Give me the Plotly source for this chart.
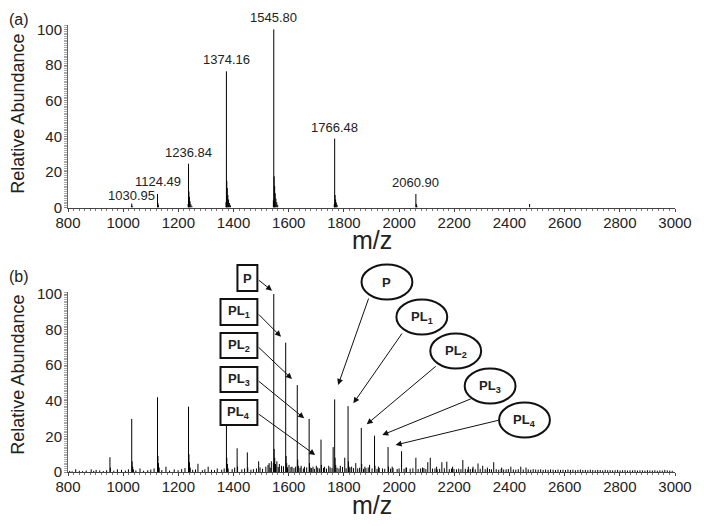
import plotly.graph_objects as go

# ---------------- DATA ----------------
# Panel (a): labelled main peaks
a_peak_mz = [1030.95, 1124.49, 1236.84, 1374.16, 1545.80, 1766.48, 2060.90, 2473.0]
a_peak_int = [2.2, 7.6, 24.6, 76.5, 100.0, 38.7, 7.6, 2.0]
a_labels = ["1030.95", "1124.49", "1236.84", "1374.16", "1545.80", "1766.48", "2060.90"]
a_label_mz = [1030.95, 1124.49, 1236.84, 1374.16, 1545.80, 1766.48, 2060.90]
a_label_int = [2.2, 7.6, 24.6, 76.5, 100.0, 38.7, 7.6]
# Panel (a): isotope shoulders
a_sh_mz = [1032.5, 1126.0, 1128.0,
           1235.5, 1238.3, 1240.0, 1242.5, 1245.5, 1249.0,
           1372.8, 1375.5, 1377.3, 1379.5, 1382.0, 1385.0, 1389.0,
           1544.3, 1547.2, 1549.0, 1551.0, 1553.5, 1556.5, 1560.0,
           1765.0, 1768.0, 1770.0, 1772.5, 1775.5,
           2062.3, 2064.5]
a_sh_int = [1.0, 2.5, 1.3,
            2.0, 9.0, 6.0, 3.5, 1.8, 0.8,
            3.0, 15.0, 11.0, 7.0, 4.5, 2.5, 1.2,
            4.0, 17.5, 12.0, 8.0, 5.0, 3.0, 1.5,
            2.0, 7.0, 4.5, 2.8, 1.5,
            2.0, 1.0]

# Panel (b): main peaks
b_peak_mz = [828, 884, 902, 952, 979, 1030.95, 1061, 1124.5, 1155, 1185,
             1236.8, 1271, 1308, 1341, 1374.2, 1413, 1450, 1491, 1525, 1545.8,
             1589, 1631, 1674, 1717, 1761, 1766.5, 1803, 1815, 1843, 1863,
             1893, 1911, 1960, 2009, 2060.9, 2104, 2113, 2155, 2173, 2231,
             2286, 2303, 2343, 2405, 2441, 2460]
b_peak_int = [1.5, 1.5, 1.2, 8.3, 1.5, 29.8, 2.0, 42.0, 3.0, 1.5,
              36.7, 4.6, 3.0, 2.0, 26.5, 13.3, 11.0, 6.0, 4.0, 100.0,
              72.7, 48.8, 29.8, 18.2, 14.0, 40.8, 8.0, 37.0, 5.0, 24.8,
              4.0, 20.4, 14.0, 11.7, 8.0, 5.5, 8.0, 5.5, 5.8, 6.7,
              4.8, 3.5, 5.5, 3.0, 3.0, 2.5]
# Panel (b): shoulders and minor peaks
b_sh_mz = [953.5, 1032.5, 1034.5, 1037.0, 1126.0, 1128.0, 1130.5, 1238.3, 1240.3, 1243.0,
           1375.6, 1377.8, 1380.5, 1414.5, 1451.5, 1544.3, 1547.2, 1549.3, 1552.0, 1590.5,
           1592.7, 1595.5, 1632.5, 1634.7, 1675.5, 1677.8, 1718.5, 1768.0, 1770.3, 1816.5,
           1818.7, 1864.5, 1912.5, 1961.5, 1529, 1537, 1557, 1566, 1574, 1601,
           1612, 1645, 1657, 1688, 1700, 1730, 1745, 1787, 1828, 1876,
           1925, 1975, 2025, 2085, 2136, 2194, 2251, 2268, 2320, 2372]
b_sh_int = [2.5, 6.0, 3.0, 1.5, 9.0, 5.0, 2.5, 10.0, 5.5, 2.5,
            8.0, 4.5, 2.0, 3.0, 2.5, 5.0, 13.0, 8.0, 4.5, 9.0,
            5.0, 2.5, 7.0, 3.5, 5.0, 2.5, 4.0, 8.0, 4.0, 6.0,
            3.0, 4.5, 3.5, 3.0, 5.0, 6.0, 6.0, 4.5, 3.5, 4.0,
            3.0, 3.5, 3.0, 3.0, 3.5, 3.0, 3.5, 3.5, 3.0, 3.0,
            3.0, 3.0, 2.5, 2.5, 3.0, 3.0, 3.0, 3.0, 2.5, 2.5]
# Panel (b): baseline noise
b_noise_mz = [806, 815, 841, 853, 866, 893, 915, 928, 940, 966,
              994, 1008, 1019, 1046, 1074, 1089, 1100, 1112, 1140, 1168,
              1199, 1212, 1224, 1252, 1262, 1287, 1296, 1320, 1331, 1357,
              1366, 1395, 1404, 1430, 1440, 1463, 1472,
              1483, 1496, 1505, 1517, 1533, 1553, 1562, 1574, 1581, 1596,
              1608, 1619, 1625, 1641, 1653, 1665, 1683, 1693, 1705, 1711,
              1726, 1737, 1750, 1757, 1775, 1782, 1795, 1808, 1822, 1835,
              1850, 1857, 1871, 1880, 1888, 1902, 1920, 1928, 1940, 1948,
              1969, 1978, 1993, 2000, 2018, 2027, 2040, 2050, 2069, 2078,
              2090, 2097, 2121, 2130, 2138, 2147, 2164, 2182, 2190, 2199,
              2208, 2216, 2224, 2240, 2249, 2258, 2266, 2276, 2294, 2312,
              2320, 2328, 2335, 2352, 2361, 2370, 2379, 2388, 2396, 2414,
              2423, 2432, 2450, 2468, 2477, 2486, 2495, 2504, 2513, 2522,
              2531, 2540, 2549, 2558, 2567, 2576, 2585, 2594, 2603, 2612,
              2621, 2630, 2639, 2648, 2657, 2666, 2675, 2684, 2693, 2702,
              2711, 2720, 2729, 2738, 2747, 2756, 2765, 2774, 2783, 2792,
              2801, 2810, 2819, 2828, 2837, 2846, 2855, 2864, 2873, 2882,
              2891, 2900, 2909, 2918, 2927, 2936, 2945, 2954, 2963, 2972,
              2981, 2990]
b_noise_int = [0.6, 0.4, 0.7, 0.5, 0.8, 0.6, 0.9, 0.5, 1.0, 0.7,
               1.2, 0.8, 1.5, 0.9, 0.7, 1.0, 1.4, 2.0, 1.1, 0.8,
               1.0, 1.6, 2.2, 1.2, 1.4, 1.0, 1.5, 1.2, 1.0, 1.3,
               2.0, 1.6, 2.5, 1.5, 2.0, 1.3, 1.6,
               2.0, 2.6, 1.8, 3.0, 2.4, 3.5, 2.8, 2.2, 3.2, 2.5,
               2.8, 2.2, 3.0, 2.4, 2.0, 2.6, 2.2, 1.8, 2.5, 2.0,
               2.3, 1.9, 2.6, 2.2, 2.4, 2.0, 2.8, 2.1, 2.5, 2.2,
               2.0, 2.4, 1.8, 2.2, 2.6, 2.0, 1.7, 2.3, 2.0, 1.8,
               1.9, 2.2, 1.7, 2.0, 1.8, 2.4, 1.9, 2.1, 1.7, 2.0,
               2.2, 1.6, 1.9, 2.0, 1.5, 1.8, 2.1, 1.6, 1.9, 1.7,
               1.5, 1.9, 1.6, 1.8, 1.4, 1.7, 2.0, 1.5, 1.8, 1.6,
               1.4, 1.7, 1.5, 1.6, 1.3, 1.8, 1.4, 1.5, 1.7, 1.4,
               1.3, 1.6, 1.4, 1.5, 1.2, 1.6, 1.4, 1.3, 1.5, 1.2,
               1.4, 1.2, 1.5, 1.3, 1.1, 1.4, 1.2, 1.3, 1.1, 1.4,
               1.2, 1.3, 1.0, 1.2, 1.4, 1.1, 1.2, 1.0, 1.3, 1.1,
               1.0, 1.2, 1.1, 0.9, 1.2, 1.0, 1.1, 0.9, 1.0, 1.2,
               0.9, 1.0, 1.1, 0.8, 1.0, 0.9, 1.1, 0.8, 1.0, 0.9,
               0.8, 1.0, 0.9, 0.8, 1.0, 0.7, 0.9, 0.8, 1.2, 0.9,
               0.8, 0.7]

x_ticks = [800, 1000, 1200, 1400, 1600, 1800, 2000, 2200, 2400, 2600, 2800, 3000]
y_ticks = [0, 20, 40, 60, 80, 100]

box_labels = ["P", "PL<sub>1</sub>", "PL<sub>2</sub>", "PL<sub>3</sub>", "PL<sub>4</sub>"]
ellipse_labels = ["P", "PL<sub>1</sub>", "PL<sub>2</sub>", "PL<sub>3</sub>", "PL<sub>4</sub>"]

# ---------------- LAYOUT GEOMETRY (pixels) ----------------
L, R, T, B = 68, 27, 25, 54
FW, FH = 704, 526
W = FW - L - R
H = FH - T - B


def px(x):
    return (x - L) / W


def py(y):
    return (FH - B - y) / H


FONT = "Liberation Sans, Arial, sans-serif"
label_yshift = [-1, 3, 2, 2, 2, 2, 2]


def sticks(mz_lists, int_lists):
    xs, ys = [], []
    for mzs, ints in zip(mz_lists, int_lists):
        for m, v in zip(mzs, ints):
            xs += [m, m, None]
            ys += [0, v, None]
    return xs, ys


fig = go.Figure()
xa, ya = sticks([a_sh_mz, a_peak_mz], [a_sh_int, a_peak_int])
fig.add_trace(go.Scatter(x=xa, y=ya, mode="lines", line=dict(color="#000", width=1),
                         xaxis="x", yaxis="y", hoverinfo="skip", showlegend=False))
xb, yb = sticks([b_noise_mz, b_sh_mz, b_peak_mz], [b_noise_int, b_sh_int, b_peak_int])
fig.add_trace(go.Scatter(x=xb, y=yb, mode="lines", line=dict(color="#000", width=1),
                         xaxis="x2", yaxis="y2", hoverinfo="skip", showlegend=False))

axis_common = dict(
    range=[800, 3000], tickvals=x_ticks, showline=True, linecolor="#444", linewidth=1,
    ticks="outside", ticklen=3, tickcolor="#444", showgrid=False, zeroline=False,
    ticklabelstandoff=-2,
    tickfont=dict(family=FONT, size=15, color="#222"),
    minor=dict(dtick=20, tick0=800, ticks="outside", ticklen=2, tickcolor="#777"),
)
yaxis_common = dict(
    tickvals=y_ticks, showline=True, linecolor="#666", linewidth=1,
    ticks="outside", ticklen=3, tickcolor="#888", showgrid=False, zeroline=False,
    ticklabelstandoff=-1,
    tickfont=dict(family=FONT, size=15, color="#222"),
    minor=dict(dtick=1, tick0=0, ticks="outside", ticklen=3, tickcolor="#aaa"),
)

fig.update_layout(
    width=FW, height=FH,
    margin=dict(l=L, r=R, t=T, b=B),
    paper_bgcolor="white", plot_bgcolor="white",
    xaxis=dict(domain=[0, 1], anchor="y", **axis_common),
    yaxis=dict(domain=[py(207.5), 1], anchor="x", range=[0, 102.5], **yaxis_common),
    xaxis2=dict(domain=[0, 1], anchor="y2", **axis_common),
    yaxis2=dict(domain=[0, py(291.7)], anchor="x2", range=[0, 101.3], **yaxis_common),
    showlegend=False,
)

ann = []
# peak labels in (a)
for lab, m, v, ys in zip(a_labels, a_label_mz, a_label_int, label_yshift):
    ann.append(dict(x=m, y=v, xref="x", yref="y", text=lab, showarrow=False,
                    yanchor="bottom", yshift=ys, font=dict(family=FONT, size=13, color="#222")))

# panel letters, axis titles
for txt, y in [("(a)", 19), ("(b)", 276)]:
    ann.append(dict(x=px(19), y=py(y), xref="paper", yref="paper", text=txt, showarrow=False,
                    xanchor="center", yanchor="middle", font=dict(family=FONT, size=16, color="#222")))
for y in [114, 375]:
    ann.append(dict(x=px(17.5), y=py(y), xref="paper", yref="paper", text="Relative Abundance",
                    textangle=-90, showarrow=False, xanchor="center", yanchor="middle",
                    font=dict(family=FONT, size=18, color="#222")))
for y in [240, 505]:
    ann.append(dict(x=px(372.5), y=py(y), xref="paper", yref="paper", text="m/z",
                    showarrow=False, xanchor="center", yanchor="middle",
                    font=dict(family=FONT, size=25, color="#222")))

shapes = []
# rectangular boxes (left)
box_geom = [(238, 258, 265, 291), (221, 258, 299, 325), (221, 258, 333, 358),
            (221, 258, 367, 392), (221, 258, 400, 425)]
box_arrows = [((258, 279), (272.7, 290.7)), ((258, 313), (281.7, 336.7)),
              ((258, 346), (292.7, 379)), ((258, 380), (305, 418.3)),
              ((258, 413), (316, 455))]
for lab, (x0, x1, y0, y1), (tail, tip) in zip(box_labels, box_geom, box_arrows):
    shapes.append(dict(type="rect", xref="paper", yref="paper", x0=px(x0), x1=px(x1),
                       y0=py(y1), y1=py(y0), line=dict(color="#111", width=2), fillcolor="white"))
    ann.append(dict(x=px((x0 + x1) / 2), y=py((y0 + y1) / 2), xref="paper", yref="paper",
                    text="<b>" + lab + "</b>", showarrow=False, xanchor="center", yanchor="middle",
                    font=dict(family=FONT, size=13, color="#222")))
    ann.append(dict(x=px(tip[0]), y=py(tip[1]), xref="paper", yref="paper", text="",
                    showarrow=True, ax=tail[0] - tip[0], ay=tail[1] - tip[1],
                    arrowhead=2, arrowsize=1.2, arrowwidth=1, arrowcolor="#111"))

# ellipses (right)
ell_centers = [(388, 282), (423, 317), (457, 351), (491.5, 386), (526, 420)]
ell_arrows = [((370, 297), (339, 385)), ((404, 332), (354.3, 403.3)),
              ((438.3, 365), (367.7, 424.3)), ((473.3, 398.3), (383.3, 435)),
              ((500.7, 420), (396.7, 445))]
for lab, (cx, cy), (tail, tip) in zip(ellipse_labels, ell_centers, ell_arrows):
    shapes.append(dict(type="circle", xref="paper", yref="paper", x0=px(cx - 25.5), x1=px(cx + 25.5),
                       y0=py(cy + 17.5), y1=py(cy - 17.5), line=dict(color="#111", width=2),
                       fillcolor="white"))
    ann.append(dict(x=px(cx), y=py(cy), xref="paper", yref="paper",
                    text="<b>" + lab + "</b>", showarrow=False, xanchor="center", yanchor="middle",
                    font=dict(family=FONT, size=13, color="#222")))
    ann.append(dict(x=px(tip[0]), y=py(tip[1]), xref="paper", yref="paper", text="",
                    showarrow=True, ax=tail[0] - tip[0], ay=tail[1] - tip[1],
                    arrowhead=2, arrowsize=1.2, arrowwidth=1, arrowcolor="#111"))

fig.update_layout(annotations=ann, shapes=shapes)
fig.write_html("out.html", config={"displayModeBar": False},
               post_script="document.body.style.margin='0px';")
